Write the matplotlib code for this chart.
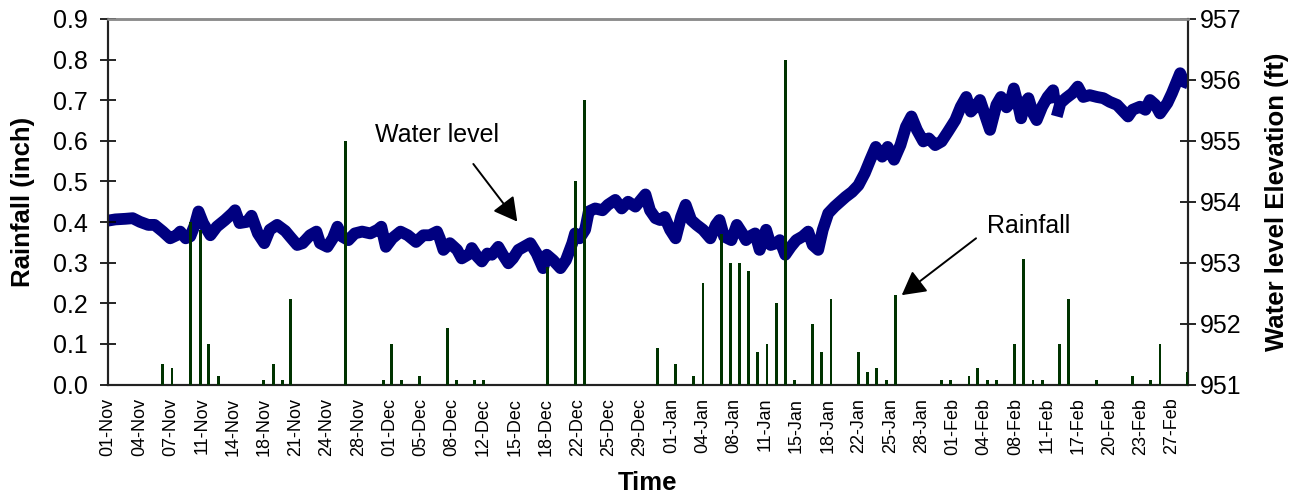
import numpy as np
import matplotlib
matplotlib.use('Agg')
import matplotlib.pyplot as plt

plt.rcParams['font.family'] = ['Liberation Sans', 'DejaVu Sans']

# ---------------- data ----------------
tick_labels = ['01-Nov', '04-Nov', '07-Nov', '11-Nov', '14-Nov', '18-Nov', '21-Nov', '24-Nov', '28-Nov',
               '01-Dec', '05-Dec', '08-Dec', '12-Dec', '15-Dec', '18-Dec', '22-Dec', '25-Dec', '29-Dec',
               '01-Jan', '04-Jan', '08-Jan', '11-Jan', '15-Jan', '18-Jan', '22-Jan', '25-Jan', '28-Jan',
               '01-Feb', '04-Feb', '08-Feb', '11-Feb', '17-Feb', '20-Feb', '23-Feb', '27-Feb']
tick_step = 3.4238          # days between labelled ticks on the axis
x_max = 118.16              # axis end (days after 01-Nov)

# daily rainfall (inch), position in days after 01-Nov
rain_day = [6.0, 7.0, 9.0, 10.1, 11.0, 12.1, 17.0, 18.1, 19.1, 20.0, 26.0, 30.1, 31.0, 32.1, 34.1,
            37.1, 38.1, 40.1, 41.1, 48.1, 51.1, 52.1, 60.1, 62.1, 64.1, 65.1, 67.1, 68.1, 69.1, 70.1,
            71.1, 72.1, 73.1, 74.1, 75.1, 77.1, 78.1, 79.1, 82.1, 83.1, 84.1, 85.2, 86.2, 91.2, 92.2,
            94.2, 95.1, 96.2, 97.2, 99.2, 100.2, 101.2, 102.2, 104.1, 105.1, 108.1, 112.1, 114.1,
            115.1, 118.1]
rain_in = [0.05, 0.04, 0.40, 0.38, 0.10, 0.02, 0.01, 0.05, 0.01, 0.21, 0.60, 0.01, 0.10, 0.01, 0.02,
           0.14, 0.01, 0.01, 0.01, 0.29, 0.50, 0.70, 0.09, 0.05, 0.02, 0.25, 0.37, 0.30, 0.30, 0.28,
           0.08, 0.10, 0.20, 0.80, 0.01, 0.15, 0.08, 0.21, 0.08, 0.03, 0.04, 0.01, 0.22, 0.01, 0.01,
           0.02, 0.04, 0.01, 0.01, 0.10, 0.31, 0.01, 0.01, 0.10, 0.21, 0.01, 0.02, 0.01, 0.10, 0.03]

# water level elevation (ft)
level_day = [0.0, 0.8, 1.9, 2.7, 3.5, 4.4, 5.1, 6.0, 6.8, 7.5,
             7.9, 8.5, 9.0, 9.5, 9.9, 10.4, 11.2, 11.9, 12.8, 13.6,
             13.9, 14.4, 15.2, 15.7, 16.4, 17.1, 17.7, 18.5, 19.4, 19.9,
             20.7, 21.3, 22.1, 22.8, 23.2, 24.0, 24.6, 25.1, 25.6, 26.3,
             27.0, 27.8, 28.7, 29.5, 29.9, 30.4, 31.1, 32.0, 32.8, 33.7,
             34.5, 35.2, 36.0, 36.3, 36.7, 37.4, 38.2, 38.7, 39.6, 39.8,
             40.4, 40.9, 41.5, 42.0, 42.7, 43.2, 43.8, 44.3, 44.9, 45.5,
             46.2, 46.9, 47.6, 48.0, 48.7, 49.5, 50.1, 50.8, 51.1, 51.6,
             52.2, 52.6, 53.3, 54.1, 54.7, 55.5, 56.2, 56.9, 57.7, 58.8,
             59.3, 59.9, 60.4, 60.9, 61.5, 62.1, 62.7, 63.2, 63.8, 64.4,
             65.1, 65.9, 66.5, 66.9, 67.4, 68.2, 68.8, 69.4, 69.8, 70.2,
             70.8, 71.3, 72.0, 72.5, 73.1, 73.5, 74.1, 74.7, 75.3, 76.0,
             76.6, 77.1, 77.7, 78.2, 78.8, 79.5, 80.1, 80.7, 81.4, 82.1,
             82.8, 83.4, 84.0, 84.7, 85.3, 86.0, 86.7, 87.3, 87.9, 88.5,
             89.2, 89.8, 90.5, 91.2, 91.9, 92.7, 93.3, 93.9, 94.4, 94.9,
             95.4, 96.0, 96.5, 97.2, 97.7, 98.3, 98.7, 99.1, 99.7, 99.9,
             100.3, 100.7, 101.2, 101.6, 102.2, 102.8, 103.4, 103.6,
             103.7,
             103.8, 104.2, 104.8, 105.5, 106.1, 106.7, 107.4, 108.2, 108.9, 109.6, 110.4, 111.1,
             111.6, 112.1, 112.9, 113.5, 114.0, 114.6, 115.1, 115.9, 116.4, 117.0, 117.3, 117.7, 118.2]
level_ft = [953.69, 953.71, 953.72, 953.73, 953.67, 953.62, 953.62, 953.51, 953.40, 953.45,
            953.51, 953.40, 953.43, 953.62, 953.84, 953.65, 953.45, 953.59, 953.70, 953.81,
            953.86, 953.65, 953.67, 953.77, 953.48, 953.32, 953.54, 953.62, 953.52, 953.43,
            953.29, 953.32, 953.45, 953.51, 953.32, 953.26, 953.40, 953.59, 953.43, 953.37,
            953.48, 953.51, 953.48, 953.54, 953.59, 953.26, 953.40, 953.51, 953.45, 953.34,
            953.45, 953.45, 953.51, 953.40, 953.21, 953.32, 953.21, 953.07, 953.15, 953.24,
            953.10, 953.02, 953.15, 953.13, 953.26, 953.13, 952.99, 953.07, 953.21, 953.26,
            953.32, 953.15, 952.91, 953.13, 953.04, 952.91, 953.04, 953.32, 953.48, 953.40,
            953.54, 953.84, 953.89, 953.86, 953.95, 954.03, 953.89, 954.00, 953.92, 954.12,
            953.86, 953.73, 953.70, 953.75, 953.54, 953.40, 953.75, 953.95, 953.70, 953.62,
            953.54, 953.40, 953.62, 953.70, 953.43, 953.37, 953.62, 953.48, 953.37, 953.43,
            953.48, 953.21, 953.54, 953.29, 953.32, 953.37, 953.13, 953.26, 953.37, 953.43,
            953.51, 953.29, 953.21, 953.54, 953.81, 953.92, 954.00, 954.08, 954.16, 954.27,
            954.47, 954.69, 954.90, 954.74, 954.90, 954.69, 954.93, 955.23, 955.40, 955.18,
            954.99, 955.04, 954.93, 954.99, 955.15, 955.34, 955.56, 955.72, 955.48, 955.56,
            955.67, 955.40, 955.18, 955.59, 955.72, 955.55, 955.62, 955.86, 955.51, 955.37,
            955.62, 955.70, 955.45, 955.34, 955.56, 955.72, 955.83, 955.62,
            float('nan'),
            955.40, 955.62, 955.70, 955.78, 955.89, 955.72, 955.75, 955.72, 955.70, 955.64, 955.59, 955.48,
            955.40, 955.51, 955.56, 955.51, 955.67, 955.59, 955.45, 955.62, 955.78, 956.00, 956.11, 955.97, 955.94]

assert len(level_day) == len(level_ft), (len(level_day), len(level_ft))
assert len(rain_day) == len(rain_in)

# ---------------- figure ----------------
fig = plt.figure(figsize=(13.03, 5.0), dpi=100)
ax = fig.add_axes([108 / 1303, 1 - 384.5 / 500, 1080 / 1303, 365.5 / 500])
ax2 = ax.twinx()

ax2.plot(level_day, level_ft, color='#000080', lw=8.5,
         solid_joinstyle='round', solid_capstyle='butt')
ax2.set_ylim(951, 957)
ax2.set_yticks(range(951, 958))

ax.bar(rain_day, rain_in, width=0.32, color='#003300', zorder=3)
ax.set_ylim(0, 0.9)
ax.set_xlim(0, x_max)
ax.set_yticks(np.round(np.arange(0, 0.91, 0.1), 1))
ax.set_yticklabels([f'{v:.1f}' for v in np.arange(0, 0.91, 0.1)])

ax.set_zorder(ax2.get_zorder() + 1)
ax.patch.set_visible(False)

tick_pos = [k * tick_step for k in range(len(tick_labels))]
ax.set_xticks(tick_pos)
ax.set_xticklabels(tick_labels, rotation=90, fontsize=13)
ax.tick_params(axis='x', length=0, pad=9.5)
ax.tick_params(axis='y', direction='inout', length=12, width=1.2, labelsize=18, pad=8.4, colors='black')
ax2.tick_params(axis='y', direction='inout', length=12, width=1.2, labelsize=18, pad=2.7)

for a in (ax, ax2):
    for side in ('left', 'bottom', 'right'):
        a.spines[side].set_color('#222222')
        a.spines[side].set_linewidth(1.5)
    a.spines['top'].set_color('#8c8c8c')
    a.spines['top'].set_linewidth(1.8)

ax.set_ylabel('Rainfall (inch)', fontsize=18.5, fontweight='bold')
ax.yaxis.set_label_coords((23 - 108) / 1080, 0.5)
ax.yaxis.label.set_va('center')

ax2.set_ylabel('Water level Elevation (ft)', fontsize=18.5, fontweight='bold')
ax2.yaxis.set_label_coords((1277 - 108) / 1080, 0.5)
ax2.yaxis.label.set_va('center')

ax.set_xlabel('Time', fontsize=18.5, fontweight='bold')
ax.xaxis.set_label_coords(0.5, (384.5 - 483) / 365.5)
ax.xaxis.label.set_va('center')

arrow_kw = dict(arrowstyle='-|>,head_length=0.4,head_width=0.22', mutation_scale=36,
                lw=1.4, color='black', shrinkA=0, shrinkB=0)
ax.text(35.96, 0.598, 'Water level', fontsize=18, ha='center', va='baseline')
ax.annotate('', xy=(44.78, 0.401), xytext=(39.97, 0.543), arrowprops=arrow_kw)
ax.text(100.69, 0.374, 'Rainfall', fontsize=18, ha='center', va='baseline')
ax.annotate('', xy=(86.84, 0.220), xytext=(94.97, 0.360), arrowprops=arrow_kw)

fig.savefig('out.png', dpi=100)
